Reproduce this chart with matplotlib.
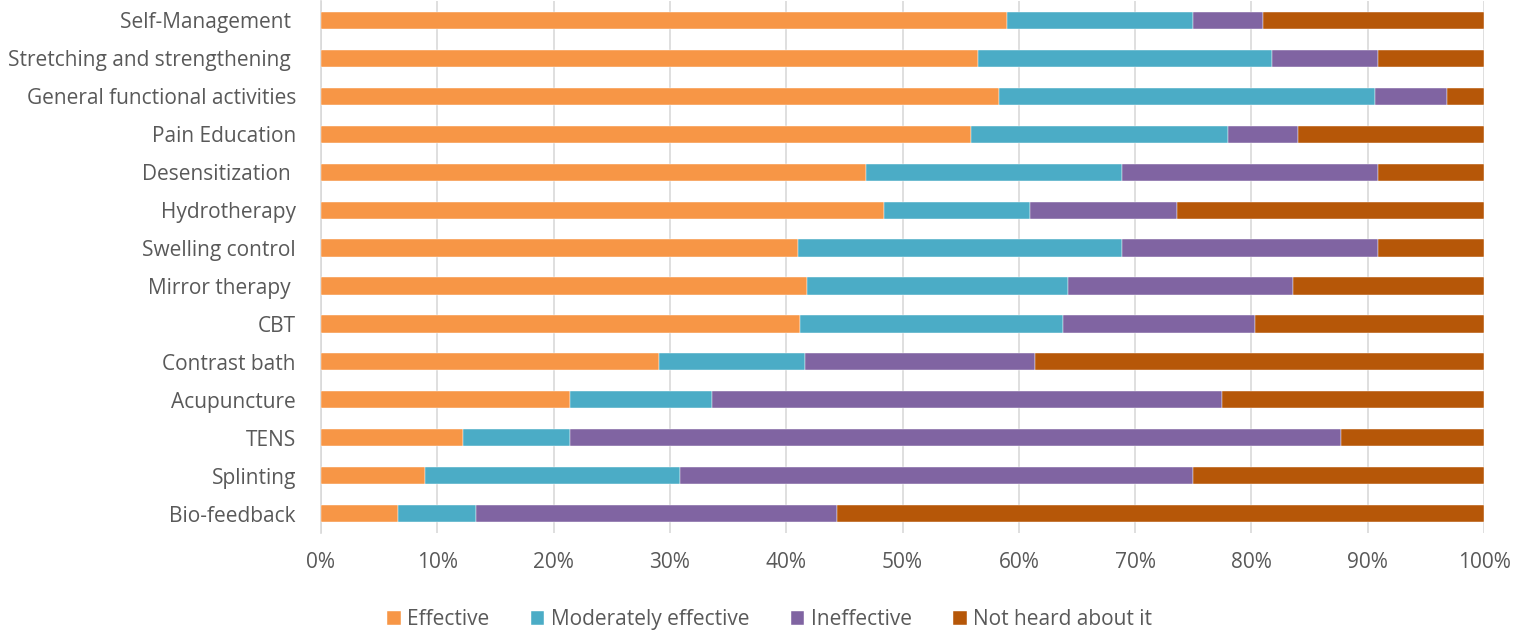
import matplotlib
matplotlib.use("Agg")
import matplotlib.pyplot as plt
import numpy as np

plt.rcParams['font.family'] = ['Open Sans', 'DejaVu Sans']

# therapies, top to bottom
therapies = ["Self-Management ", "Stretching and strengthening ", "General functional activities",
             "Pain Education", "Desensitization ", "Hydrotherapy", "Swelling control",
             "Mirror therapy ", "CBT", "Contrast bath", "Acupuncture", "TENS", "Splinting",
             "Bio-feedback"]

# percentage of respondents per answer
effective = [59.0, 56.5, 58.3, 55.9, 46.9, 48.4, 41.0, 41.8, 41.2, 29.1, 21.4, 12.2, 8.9, 6.6]
moderately = [16.0, 25.3, 32.3, 22.1, 22.0, 12.6, 27.9, 22.4, 22.6, 12.5, 12.2, 9.2, 22.0, 6.7]
ineffective = [6.0, 9.1, 6.2, 6.0, 22.0, 12.6, 22.0, 19.4, 16.5, 19.8, 43.9, 66.3, 44.1, 31.1]
not_heard = [19.0, 9.1, 3.2, 16.0, 9.1, 26.4, 9.1, 16.4, 19.7, 38.6, 22.5, 12.3, 25.0, 55.6]

series = [("Effective", effective, "#F79646"),
          ("Moderately effective", moderately, "#4BACC6"),
          ("Ineffective", ineffective, "#8064A2"),
          ("Not heard about it", not_heard, "#B65708")]

fig = plt.figure(figsize=(15.3, 6.35), dpi=100)
ax = fig.add_axes([0.2098, 0.161, 0.7602, 0.837])

y = np.arange(len(therapies))
left = np.zeros(len(therapies))
for name, vals, col in series:
    vals = np.array(vals)
    ax.barh(y, vals, left=left, height=0.45, color=col, label=name,
            edgecolor="white", linewidth=0.3, zorder=3)
    left += vals

ax.set_ylim(len(therapies) - 0.5, -0.5)
ax.set_xlim(0, 100)
ax.set_yticks(y)
ax.set_yticklabels(therapies)
ax.set_xticks(np.arange(0, 101, 10))
ax.set_xticklabels([f"{v}%" for v in range(0, 101, 10)])
ax.tick_params(axis="both", length=0, labelsize=15, labelcolor="#595959")
ax.tick_params(axis="x", pad=14)
ax.tick_params(axis="y", pad=18)
ax.xaxis.grid(True, color="#D9D9D9", linewidth=1.2, zorder=0)
for s in ["top", "right", "bottom"]:
    ax.spines[s].set_visible(False)
ax.spines["left"].set_color("#D9D9D9")
ax.spines["left"].set_linewidth(1.2)

fig.legend(loc="lower center", bbox_to_anchor=(0.503, -0.022), ncol=4, frameon=False,
           fontsize=15, labelcolor="#595959", handlelength=0.65, handleheight=0.65,
           handletextpad=0.3, columnspacing=2.0)

fig.savefig("out.png", dpi=100)
